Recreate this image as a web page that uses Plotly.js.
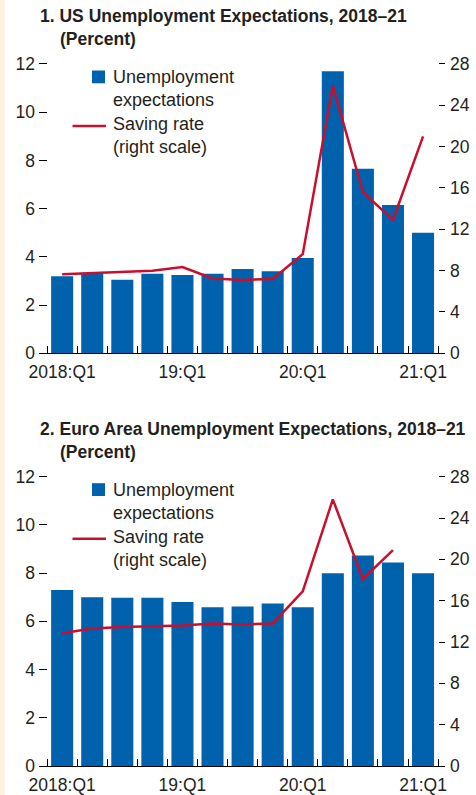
<!DOCTYPE html>
<html>
<head>
<meta charset="utf-8">
<script src="https://cdn.plot.ly/plotly-3.0.1.min.js"></script>
<style>html,body{margin:0;padding:0;background:#fff;}#chart{width:476px;height:795px;}</style>
</head>
<body>
<div id="chart"></div>
<script>
// ---- data ----
var quarters = ["2018:Q1","2018:Q2","2018:Q3","2018:Q4","2019:Q1","2019:Q2","2019:Q3","2019:Q4","2020:Q1","2020:Q2","2020:Q3","2020:Q4","2021:Q1"];
var tickLabels = ["2018:Q1","","","","19:Q1","","","","20:Q1","","","","21:Q1"];
var usUnemployment = [3.2,3.3,3.05,3.3,3.25,3.3,3.5,3.4,3.95,11.7,7.65,6.15,5.0];
var usSaving = [7.65,7.75,7.85,8.0,8.35,7.25,7.1,7.2,9.6,25.9,15.6,12.9,21.0];
var euUnemployment = [7.3,7.0,6.98,6.98,6.8,6.58,6.62,6.74,6.58,8.0,8.73,8.44,8.0];
var euSaving = [12.85,13.3,13.45,13.55,13.6,13.8,13.7,13.8,16.9,25.8,18.1,20.9,null];
var leftTicks = [0,2,4,6,8,10,12];
var rightTicks = [0,4,8,12,16,20,24,28];
var titles = ["1. US Unemployment Expectations, 2018\u201321","2. Euro Area Unemployment Expectations, 2018\u201321"];
var subtitle = "(Percent)";
var legendText = "Unemployment<br>expectations<br>Saving rate<br>(right scale)";

// ---- style ----
var W = 476, H = 795;
var BLUE = "#0062AD", RED = "#C8102E", TXT = "#231F20";
var FONT = "Liberation Sans, Arial, sans-serif";
function px(x){return x / W;}
function py(y){return 1 - y / H;}

var traces = [
  {type:"bar", x:quarters, y:usUnemployment, xaxis:"x", yaxis:"y", marker:{color:BLUE}, name:"Unemployment expectations", showlegend:false},
  {type:"scatter", mode:"lines", x:quarters, y:usSaving, xaxis:"x", yaxis:"y2", line:{color:RED, width:2.5}, name:"Saving rate", showlegend:false},
  {type:"bar", x:quarters, y:euUnemployment, xaxis:"x2", yaxis:"y3", marker:{color:BLUE}, name:"Unemployment expectations", showlegend:false},
  {type:"scatter", mode:"lines", x:quarters, y:euSaving, xaxis:"x2", yaxis:"y4", line:{color:RED, width:2.5}, name:"Saving rate", showlegend:false}
];

var xDom = [px(39), px(445)];
var OFF = 412.7; // vertical offset of panel 2
var EXT = 0.12;  // small headroom so the top ticks are drawn
var PXU = 24.1;  // pixels per left-axis unit
function xAxis(anchor){
  return {domain:xDom, anchor:anchor, type:"category", range:[-0.77,12.73],
    showline:true, linecolor:"#000", linewidth:1, ticks:"inside", ticklen:7, tickcolor:"#000", tickwidth:1,
    tickson:"boundaries", tickmode:"array", tickvals:quarters, ticktext:tickLabels, tickangle:0,
    ticklabelstandoff:3,
    showgrid:false, zeroline:false, tickfont:{family:FONT, size:17.5, color:TXT}, fixedrange:true};
}
function yLeft(top, bottom, anchor){
  return {domain:[py(bottom), py(top - EXT*PXU)], anchor:anchor, range:[0,12+EXT], tickmode:"array", tickvals:leftTicks,
    ticks:"inside", ticklen:8, tickcolor:"#000", tickwidth:1, showline:false, showgrid:false, zeroline:false,
    ticklabelstandoff:3, tickfont:{family:FONT, size:17.5, color:TXT}};
}
function yRight(over, anchor){
  return {overlaying:over, anchor:anchor, side:"right", range:[0,(12+EXT)*28/12], tickmode:"array", tickvals:rightTicks,
    ticks:"inside", ticklen:6, tickcolor:"#000", tickwidth:1, showline:false, showgrid:false, zeroline:false,
    ticklabelstandoff:4, tickfont:{family:FONT, size:17.5, color:TXT}};
}

var shapes = [
  {type:"rect", xref:"paper", yref:"paper", x0:0, x1:px(4.5), y0:0, y1:1, fillcolor:"#FDF0E1", line:{width:0}, layer:"below"}
];
var annotations = [];
[0, OFF].forEach(function(o, i){
  // legend swatches
  shapes.push({type:"rect", xref:"paper", yref:"paper", x0:px(92), x1:px(105), y0:py(83.3+o), y1:py(70.5+o), fillcolor:BLUE, line:{width:0}});
  shapes.push({type:"line", xref:"paper", yref:"paper", x0:px(72.5), x1:px(106), y0:py(126+o), y1:py(126+o), line:{color:RED, width:2.5}});
  annotations.push({xref:"paper", yref:"paper", x:px(112), y:py(66+o), xanchor:"left", yanchor:"top", align:"left",
    showarrow:false, text:legendText, borderpad:0, font:{family:FONT, size:18, color:TXT}});
  annotations.push({xref:"paper", yref:"paper", x:px(39), y:py(5+o), xanchor:"left", yanchor:"top", align:"left",
    showarrow:false, text:"<b>"+titles[i]+"</b>", borderpad:0, font:{family:FONT, size:17.5, color:TXT}});
  annotations.push({xref:"paper", yref:"paper", x:px(59), y:py(28.5+o), xanchor:"left", yanchor:"top", align:"left",
    showarrow:false, text:"<b>"+subtitle+"</b>", borderpad:0, font:{family:FONT, size:17.5, color:TXT}});
});

var layout = {
  width:W, height:H, margin:{l:0, r:0, t:0, b:0}, paper_bgcolor:"#fff", plot_bgcolor:"rgba(0,0,0,0)",
  showlegend:false, bargap:0.267, font:{family:FONT, color:TXT},
  xaxis:xAxis("y"), yaxis:yLeft(64, 353.3, "x"), yaxis2:yRight("y","x"),
  xaxis2:xAxis("y3"), yaxis3:yLeft(64+OFF, 353.3+OFF, "x2"), yaxis4:yRight("y3","x2"),
  shapes:shapes, annotations:annotations
};

Plotly.newPlot("chart", traces, layout, {displayModeBar:false, staticPlot:true});
</script>
</body>
</html>
